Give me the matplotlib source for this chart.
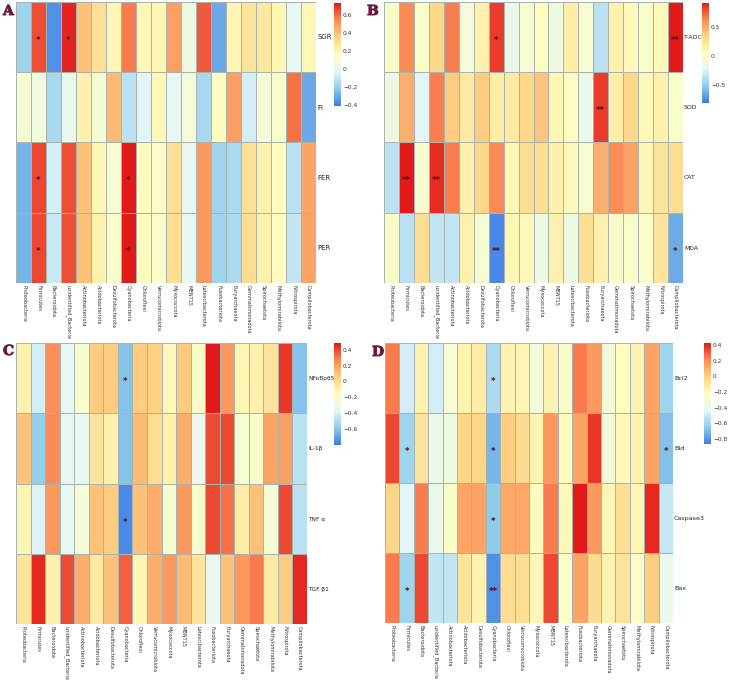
import numpy as np
import matplotlib
matplotlib.use("Agg")
import matplotlib.pyplot as plt
import matplotlib.patheffects as pe
from matplotlib.colors import LinearSegmentedColormap

# column labels shared by all four heatmaps
taxa = ["Proteobacteria", "Firmicutes", "Bacteroidota", "unidentified_Bacteria",
        "Actinobacteriota", "Acidobacteriota", "Desulfobacterota", "Cyanobacteria",
        "Chloroflexi", "Verrucomicrobiota", "Myxococcota", "MBNT15",
        "Latescibacterota", "Fusobacteriota", "Euryarchaeota", "Gemmatimonadota",
        "Spirochaetota", "Methylomirabilota", "Nitrospirota", "Campilobacterota"]

# A - growth
rows_a = ["SGR", "FI", "FER", "PER"]
sgr = [-0.18, 0.65, -0.36, 0.72, 0.40, 0.30, 0.20, 0.57, 0.20, 0.20,
       0.49, 0.05, 0.63, -0.30, 0.20, 0.28, 0.26, 0.20, 0.00, 0.19]
fi = [0.11, 0.07, -0.16, 0.02, 0.22, 0.11, 0.42, -0.12, -0.03, 0.19,
      0.00, 0.08, -0.16, 0.17, 0.49, -0.06, 0.08, 0.13, 0.59, -0.30]
fer = [-0.27, 0.66, -0.06, 0.65, 0.40, 0.20, 0.11, 0.74, 0.17, 0.13,
       0.30, 0.00, 0.51, -0.18, -0.15, 0.30, 0.22, 0.17, -0.12, 0.48]
per = [-0.27, 0.66, -0.09, 0.65, 0.40, 0.22, 0.13, 0.74, 0.17, 0.13,
       0.31, 0.00, 0.51, -0.18, -0.15, 0.31, 0.22, 0.17, -0.10, 0.48]
stars_a = [("SGR", "Firmicutes", "*"), ("SGR", "unidentified_Bacteria", "*"),
           ("FER", "Firmicutes", "*"), ("FER", "Cyanobacteria", "*"),
           ("PER", "Firmicutes", "*"), ("PER", "Cyanobacteria", "*")]

# B - antioxidant
rows_b = ["T-AOC", "SOD", "CAT", "MDA"]
taoc = [0.00, 0.62, 0.00, 0.31, 0.65, -0.07, 0.14, 0.82, -0.16, -0.04,
        0.05, -0.12, 0.17, -0.04, -0.38, 0.14, 0.08, 0.00, 0.08, 0.91]
sod = [-0.12, 0.48, -0.24, 0.65, 0.36, 0.19, 0.36, 0.17, 0.19, 0.31,
       0.39, 0.10, 0.05, -0.16, 0.82, 0.17, 0.31, 0.08, 0.14, 0.00]
cat = [-0.38, 0.91, -0.04, 0.86, 0.65, 0.14, 0.31, 0.62, 0.10, 0.27,
       0.27, 0.14, 0.08, -0.04, 0.48, 0.62, 0.53, 0.10, 0.22, 0.26]
mda = [0.00, -0.38, 0.27, -0.35, -0.35, 0.14, -0.04, -0.76, 0.10, 0.08,
       -0.12, 0.14, -0.12, 0.27, 0.14, 0.00, 0.00, 0.00, 0.22, -0.64]
stars_b = [("T-AOC", "Cyanobacteria", "*"), ("T-AOC", "Campilobacterota", "**"),
           ("SOD", "Euryarchaeota", "**"),
           ("CAT", "Firmicutes", "**"), ("CAT", "unidentified_Bacteria", "**"),
           ("MDA", "Cyanobacteria", "**"), ("MDA", "Campilobacterota", "*")]

# C - inflammation
rows_c = ["NFκBp65", "IL-1β", "TNF α", "TGF β1"]
nfkb = [-0.10, -0.42, 0.25, -0.35, -0.22, 0.07, 0.07, -0.61, 0.07, 0.06,
        -0.13, 0.07, -0.20, 0.48, 0.22, -0.12, -0.10, -0.03, 0.42, -0.61]
il1b = [0.10, -0.57, 0.26, -0.35, -0.35, -0.03, -0.10, -0.61, 0.12, 0.00,
        -0.10, 0.16, -0.33, 0.38, 0.39, -0.22, -0.20, 0.19, 0.20, -0.48]
tnfa = [-0.12, -0.39, 0.22, -0.35, -0.25, 0.10, 0.07, -0.76, 0.10, 0.16,
        -0.22, 0.22, -0.22, 0.39, 0.31, -0.07, 0.10, -0.25, 0.39, -0.48]
tgfb = [-0.03, 0.45, -0.10, 0.38, 0.16, -0.06, 0.10, 0.35, -0.12, 0.16,
        0.22, 0.12, -0.03, -0.33, 0.10, 0.22, 0.29, -0.06, 0.07, 0.45]
stars_c = [("NFκBp65", "Cyanobacteria", "*"), ("TNF α", "Cyanobacteria", "*")]

# D - apoptosis
rows_d = ["Bcl2", "Bid", "Caspase3", "Bax"]
bcl2 = [0.24, -0.48, -0.16, -0.48, -0.29, -0.16, -0.13, -0.58, -0.16, -0.18,
        -0.32, -0.16, -0.26, 0.24, 0.17, -0.32, -0.22, -0.16, 0.14, -0.61]
bid = [0.34, -0.61, -0.09, -0.38, -0.35, -0.02, -0.02, -0.71, 0.01, -0.05,
       -0.16, 0.17, -0.22, 0.14, 0.37, -0.32, -0.19, -0.16, 0.14, -0.68]
casp3 = [-0.02, -0.44, 0.24, -0.38, -0.26, 0.14, 0.14, -0.65, 0.13, 0.13,
         -0.22, 0.24, -0.19, 0.43, 0.17, -0.18, -0.06, -0.18, 0.40, -0.51]
bax = [0.24, -0.61, 0.34, -0.52, -0.52, -0.09, -0.16, -0.81, -0.06, -0.06,
       -0.18, 0.34, -0.26, 0.14, -0.05, -0.16, -0.09, -0.25, 0.01, -0.39]
stars_d = [("Bcl2", "Cyanobacteria", "*"),
           ("Bid", "Firmicutes", "*"), ("Bid", "Cyanobacteria", "*"),
           ("Bid", "Campilobacterota", "*"),
           ("Caspase3", "Cyanobacteria", "*"),
           ("Bax", "Firmicutes", "*"), ("Bax", "Cyanobacteria", "**")]

W, H = 729, 681
cmap = LinearSegmentedColormap.from_list(
    "hm", ["#3b7be6", "#8ecbea", "#e4f6f9", "#fefec0", "#fdd384", "#fb8a56", "#e11a19"])


def px_axes(fig, x0, y0, x1, y1):
    return fig.add_axes([x0 / W, 1 - y1 / H, (x1 - x0) / W, (y1 - y0) / H])


def heatmap(fig, box, cbox, letter, lpos, rows, data, stars, vmin, vmax, ticks, rfs):
    ax = px_axes(fig, *box)
    m = np.array(data)
    ax.pcolormesh(m, cmap=cmap, vmin=vmin, vmax=vmax,
                  edgecolors="#a9b3ab", linewidth=0.6)
    ax.set_xlim(0, m.shape[1])
    ax.set_ylim(m.shape[0], 0)
    for s in ax.spines.values():
        s.set_visible(False)
    ax.set_xticks(np.arange(m.shape[1]) + 0.5)
    ax.set_xticklabels(taxa, rotation=-90, fontsize=3.6, color="#333333", va="top")
    ax.yaxis.tick_right()
    ax.set_yticks(np.arange(m.shape[0]) + 0.5)
    ax.set_yticklabels(rows, fontsize=rfs, color="#222222")
    ax.tick_params(axis="x", length=0, pad=1.5)
    ax.tick_params(axis="y", length=0, pad=0.8)
    for r, c, t in stars:
        ax.text(taxa.index(c) + 0.5, rows.index(r) + 0.55, t, ha="center",
                va="center", fontsize=6, color="#5a0c0c", fontweight="bold")

    # colour legend
    cax = px_axes(fig, *cbox)
    sm = plt.cm.ScalarMappable(cmap=cmap, norm=plt.Normalize(vmin, vmax))
    cb = fig.colorbar(sm, cax=cax, ticks=ticks)
    cb.outline.set_visible(False)
    cb.ax.set_yticklabels([("%g" % t).replace("-", "\u2212") for t in ticks])
    cb.ax.tick_params(length=0, labelsize=4.2, labelcolor="#333333", pad=1.5)

    fig.text(lpos[0] / W, 1 - lpos[1] / H, letter, fontsize=10, fontweight="bold",
             family="DejaVu Serif", color="#8a0f1c", ha="left", va="top",
             path_effects=[pe.withStroke(linewidth=0.7, foreground="#2b3f8c")])


fig = plt.figure(figsize=(W / 100, H / 100), dpi=100)

heatmap(fig, (16, 1.5, 316, 283), (334, 2.7, 341, 106), "A", (3, 4),
        rows_a, [sgr, fi, fer, per], stars_a, -0.41, 0.74,
        [-0.4, -0.2, 0, 0.2, 0.4, 0.6], 5)
heatmap(fig, (384, 1.5, 683, 283), (702, 2.7, 709, 103), "B", (367, 4),
        rows_b, [taoc, sod, cat, mda], stars_b, -0.81, 0.91,
        [-0.5, 0, 0.5], 4.4)
heatmap(fig, (16, 343, 307, 624), (334, 343.3, 341, 445), "C", (3, 344),
        rows_c, [nfkb, il1b, tnfa, tgfb], stars_c, -0.80, 0.48,
        [-0.6, -0.4, -0.2, 0, 0.2, 0.4], 4.2)
heatmap(fig, (385, 343, 673, 623), (704, 342.7, 711, 444.3), "D", (372, 345),
        rows_d, [bcl2, bid, casp3, bax], stars_d, -0.87, 0.43,
        [-0.8, -0.6, -0.4, -0.2, 0, 0.2, 0.4], 4.6)

fig.savefig("out.png", dpi=100)
